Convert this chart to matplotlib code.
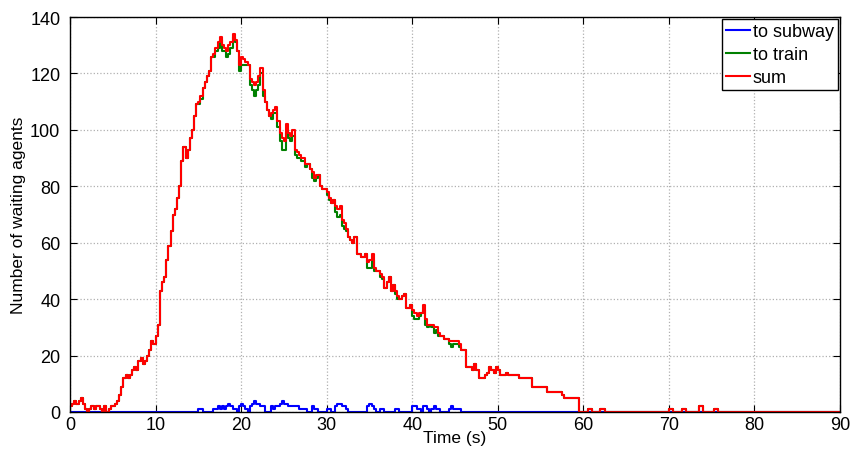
import numpy as np
import matplotlib
matplotlib.use("Agg")
import matplotlib.pyplot as plt

# Muestreo cada 0.25 s, de 0 a 90 s
dt = 0.25
t_end = 90

# Total de agentes esperando (suma), filas de 5 s
n_sum = [
    2, 3, 4, 3, 4, 5, 3, 1, 0, 1, 2, 1, 2, 2, 1, 0, 2, 0, 1, 2,                    # 0-5
    2, 3, 4, 6, 9, 12, 13, 12, 13, 15, 16, 15, 18, 19, 17, 18, 20, 22, 25, 24,     # 5-10
    27, 31, 43, 46, 48, 54, 59, 64, 70, 72, 76, 80, 89, 94, 90, 93, 97, 100, 105, 109,  # 10-15
    110, 112, 115, 117, 119, 121, 126, 127, 129, 131, 133, 130, 129, 128, 130, 131, 134, 132, 128, 123,  # 15-20
    126, 125, 124, 123, 118, 117, 116, 117, 119, 122, 114, 110, 107, 105, 106, 107, 108, 103, 99, 97,  # 20-25
    96, 102, 99, 98, 100, 93, 92, 91, 90, 90, 88, 88, 86, 85, 83, 84, 84, 80, 79, 79,  # 25-30
    78, 76, 74, 75, 73, 72, 73, 68, 67, 65, 62, 61, 60, 62, 56, 56, 55, 55, 56, 53,  # 30-35
    54, 56, 51, 50, 50, 49, 48, 44, 46, 48, 43, 45, 43, 41, 40, 41, 42, 37, 37, 38,  # 35-40
    36, 35, 34, 35, 35, 38, 33, 31, 31, 31, 30, 30, 28, 27, 27, 26, 26, 25, 25, 25,  # 40-45
    25, 25, 24, 22, 22, 16, 16, 16, 15, 17, 15, 12, 12, 12, 13, 14, 16, 15, 14, 16,  # 45-50
    15, 13, 13, 13, 14, 13, 13, 13, 13, 13, 12, 12, 12, 12, 12, 12, 9, 9, 9, 9,  # 50-55
    9, 9, 9, 7, 7, 7, 7, 7, 7, 7, 6, 5, 5, 5, 5, 5, 5, 5, 0, 0,  # 55-60
    0, 0, 1, 1, 0, 0, 0, 0, 1, 1, 0, 0, 0, 0, 0, 0, 0, 0, 0, 0,  # 60-65
    0, 0, 0, 0, 0, 0, 0, 0, 0, 0, 0, 0, 0, 0, 0, 0, 0, 0, 0, 0,  # 65-70
    1, 1, 0, 0, 0, 0, 1, 1, 0, 0, 0, 0, 0, 0, 2, 2, 0, 0, 0, 0,  # 70-75
    0, 1, 1, 0, 0, 0, 0, 0, 0, 0, 0, 0, 0, 0, 0, 0, 0, 0, 0, 0,  # 75-80
    0, 0, 0, 0, 0, 0, 0, 0, 0, 0, 0, 0, 0, 0, 0, 0, 0, 0, 0, 0,  # 80-85
    0, 0, 0, 0, 0, 0, 0, 0, 0, 0, 0, 0, 0, 0, 0, 0, 0, 0, 0, 0,  # 85-90
    0,
]

# Agentes que van al metro
n_subway = [
    0, 0, 0, 0, 0, 0, 0, 0, 0, 0, 0, 0, 0, 0, 0, 0, 0, 0, 0, 0,  # 0-5
    0, 0, 0, 0, 0, 0, 0, 0, 0, 0, 0, 0, 0, 0, 0, 0, 0, 0, 0, 0,  # 5-10
    0, 0, 0, 0, 0, 0, 0, 0, 0, 0, 0, 0, 0, 0, 0, 0, 0, 0, 0, 0,  # 10-15
    1, 1, 0, 0, 0, 0, 0, 1, 1, 2, 1, 2, 1, 2, 3, 2, 1, 1, 0, 2,  # 15-20
    3, 2, 1, 0, 2, 3, 4, 3, 3, 2, 2, 0, 0, 0, 2, 1, 2, 2, 3, 4,  # 20-25
    3, 3, 2, 2, 2, 2, 2, 1, 1, 1, 1, 0, 0, 2, 1, 1, 0, 0, 0, 0,  # 25-30
    1, 1, 0, 0, 2, 3, 3, 2, 2, 1, 0, 0, 0, 0, 0, 0, 0, 0, 0, 2,  # 30-35
    3, 2, 1, 0, 0, 1, 1, 0, 0, 0, 0, 0, 1, 1, 0, 0, 0, 0, 0, 0,  # 35-40
    2, 2, 1, 1, 0, 2, 2, 1, 0, 1, 2, 1, 1, 0, 0, 0, 0, 1, 2, 1,  # 40-45
    1, 1, 1, 0, 0, 0, 0, 0, 0, 0, 0, 0, 0, 0, 0, 0, 0, 0, 0, 0,  # 45-50
    0, 0, 0, 0, 0, 0, 0, 0, 0, 0, 0, 0, 0, 0, 0, 0, 0, 0, 0, 0,  # 50-55
    0, 0, 0, 0, 0, 0, 0, 0, 0, 0, 0, 0, 0, 0, 0, 0, 0, 0, 0, 0,  # 55-60
    0, 0, 0, 0, 0, 0, 0, 0, 0, 0, 0, 0, 0, 0, 0, 0, 0, 0, 0, 0,  # 60-65
    0, 0, 0, 0, 0, 0, 0, 0, 0, 0, 0, 0, 0, 0, 0, 0, 0, 0, 0, 0,  # 65-70
    0, 0, 0, 0, 0, 0, 0, 0, 0, 0, 0, 0, 0, 0, 0, 0, 0, 0, 0, 0,  # 70-75
    0, 0, 0, 0, 0, 0, 0, 0, 0, 0, 0, 0, 0, 0, 0, 0, 0, 0, 0, 0,  # 75-80
    0, 0, 0, 0, 0, 0, 0, 0, 0, 0, 0, 0, 0, 0, 0, 0, 0, 0, 0, 0,  # 80-85
    0, 0, 0, 0, 0, 0, 0, 0, 0, 0, 0, 0, 0, 0, 0, 0, 0, 0, 0, 0,  # 85-90
    0,
]

x_ticks = [0, 10, 20, 30, 40, 50, 60, 70, 80, 90]
y_ticks = [0, 20, 40, 60, 80, 100, 120, 140]

plt.rcParams['font.family'] = ['Liberation Sans', 'DejaVu Sans']

time = np.arange(len(n_sum)) * dt
total = np.array(n_sum)
subway = np.array(n_subway)
train = total - subway  # el resto va al tren

fig = plt.figure(figsize=(8.56, 4.56), dpi=100)
ax = fig.add_axes([0.0818, 0.0943, 0.8995, 0.8662])

ax.plot(time, subway, color='#0000ff', lw=1.5, drawstyle='steps-post', label='to subway')
ax.plot(time, train, color='#008000', lw=1.5, drawstyle='steps-post', label='to train')
ax.plot(time, total, color='#ff0000', lw=1.5, drawstyle='steps-post', label='sum')

ax.set_xlim(0, t_end)
ax.set_ylim(0, 140)
ax.set_xticks(x_ticks)
ax.set_yticks(y_ticks)
ax.tick_params(direction='in', top=True, right=True, labelsize=13, length=5)
ax.tick_params(axis='y', pad=7)
ax.tick_params(axis='x', pad=3)
ax.grid(True, linestyle=':', color='#b0b0b0', linewidth=0.9)
for s in ax.spines.values():
    s.set_linewidth(1.0)

ax.set_xlabel('Time (s)', fontsize=12.5, labelpad=-2)
ax.set_ylabel('Number of waiting agents', fontsize=12.5, labelpad=3)

leg = ax.legend(loc='upper right', fontsize=13, fancybox=False, framealpha=1,
                edgecolor='black', handlelength=1.3, handletextpad=0.15,
                borderpad=0.25, labelspacing=0.32, borderaxespad=0.1)
leg.get_frame().set_linewidth(1.0)

fig.savefig('out.png', dpi=100)
